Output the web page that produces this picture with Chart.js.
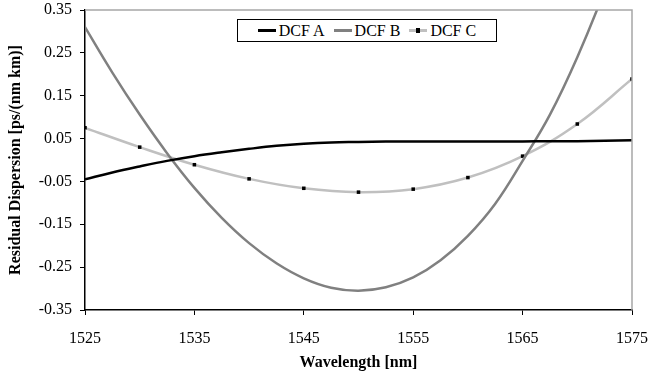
<!DOCTYPE html>
<html>
<head>
<meta charset="utf-8">
<script src="https://cdn.jsdelivr.net/npm/chart.js@4"></script>
<style>
    html, body { margin: 0; padding: 0; background: #fff; }
    #wrap { position: relative; width: 651px; height: 381px; }
    #legend {
        position: absolute; left: 237px; top: 19px; width: 260px; height: 23px;
        border: 1px solid #000; background: #fff; box-sizing: border-box;
        display: flex; align-items: center; justify-content: center; gap: 9px;
        font-family: "Liberation Serif", "Times New Roman", serif; font-size: 16px; color: #000;
    }
    .item { display: flex; align-items: center; gap: 3px; white-space: nowrap; }
    .swatch { position: relative; width: 18px; height: 3px; }
    .dot { position: absolute; left: 7px; top: -1px; width: 4px; height: 5px; background: #000; }
</style>
</head>
<body>
<div id="wrap">
    <canvas id="dispersionChart" width="651" height="381"></canvas>
    <div id="legend"></div>
</div>
<script>
// wavelength grid for the smooth curves (nm)
const wavelengthFine = [1525, 1527.5, 1530, 1532.5, 1535, 1537.5, 1540, 1542.5, 1545, 1547.5,
    1550, 1552.5, 1555, 1557.5, 1560, 1562.5, 1565, 1567.5, 1570, 1572.5, 1575];
const dcfA = [-0.045, -0.029, -0.015, -0.002, 0.009, 0.018, 0.026, 0.033, 0.038, 0.041,
    0.042, 0.043, 0.043, 0.043, 0.043, 0.043, 0.043, 0.044, 0.044, 0.045, 0.046];
const dcfB = [0.310, 0.204, 0.106, 0.016, -0.065, -0.135, -0.194, -0.241, -0.276, -0.298,
    -0.305, -0.297, -0.274, -0.234, -0.177, -0.102, -0.002, 0.106, 0.240, 0.396, 0.574];

// DCF C is sampled every 5 nm (marked points)
const wavelengthC = [1525, 1530, 1535, 1540, 1545, 1550, 1555, 1560, 1565, 1570, 1575];
const dcfC = [0.075, 0.030, -0.011, -0.044, -0.066, -0.075, -0.068, -0.041, 0.009, 0.084, 0.189];

const xTicks = [1525, 1535, 1545, 1555, 1565, 1575];
const yTicks = [-0.35, -0.25, -0.15, -0.05, 0.05, 0.15, 0.25, 0.35];

const seriesNames = ["DCF A", "DCF B", "DCF C"];
const seriesColors = ["#000000", "#808080", "#c0c0c0"];

const serif = "'Liberation Serif', 'Times New Roman', serif";

function toPoints(xs, ys) {
    return xs.map((x, i) => ({ x: x, y: ys[i] }));
}

// gray frame on the top and right of the plot area
const plotFrame = {
    id: "plotFrame",
    afterDraw(chart) {
        const { ctx, chartArea } = chart;
        ctx.save();
        ctx.strokeStyle = "#a6a6a6";
        ctx.lineWidth = 1.5;
        ctx.beginPath();
        ctx.moveTo(chartArea.left, chartArea.top);
        ctx.lineTo(chartArea.right, chartArea.top);
        ctx.lineTo(chartArea.right, chartArea.bottom);
        ctx.stroke();
        ctx.restore();
    }
};

new Chart(document.getElementById("dispersionChart"), {
    type: "line",
    data: {
        datasets: [
            {
                label: seriesNames[0],
                data: toPoints(wavelengthFine, dcfA),
                borderColor: seriesColors[0],
                borderWidth: 2.5,
                pointRadius: 0,
                tension: 0.4,
            },
            {
                label: seriesNames[1],
                data: toPoints(wavelengthFine, dcfB),
                borderColor: seriesColors[1],
                borderWidth: 2.5,
                pointRadius: 0,
                tension: 0.4,
            },
            {
                label: seriesNames[2],
                data: toPoints(wavelengthC, dcfC),
                borderColor: seriesColors[2],
                borderWidth: 2.5,
                pointStyle: "rect",
                pointRadius: 2.5,
                pointBackgroundColor: "#000",
                pointBorderWidth: 0,
                tension: 0.4,
            },
        ]
    },
    options: {
        responsive: false,
        animation: false,
        events: [],
        layout: { padding: { left: 0, top: 10, right: 19, bottom: 0 } },
        plugins: {
            legend: { display: false },
            tooltip: { enabled: false }
        },
        scales: {
            x: {
                type: "linear",
                min: 1525,
                max: 1575,
                afterBuildTicks: (scale) => { scale.ticks = xTicks.map(v => ({ value: v })); },
                afterFit: (scale) => {
                    scale.height = 71;
                    scale.paddingLeft = 0;
                    scale.paddingRight = 0;
                },
                border: { color: "#000", width: 1.5 },
                grid: { drawOnChartArea: false, tickColor: "#000", tickLength: 5 },
                ticks: {
                    color: "#000",
                    padding: 14,
                    maxRotation: 0,
                    font: { family: serif, size: 16 },
                    callback: (value) => String(value)
                },
                title: {
                    display: true,
                    text: "Wavelength [nm]",
                    color: "#000",
                    padding: { top: 0, bottom: 9 },
                    font: { family: serif, size: 16, weight: "bold" }
                }
            },
            y: {
                min: -0.35,
                max: 0.35,
                afterBuildTicks: (scale) => { scale.ticks = yTicks.map(v => ({ value: v })); },
                afterFit: (scale) => {
                    scale.width = 85;
                    scale.paddingTop = 0;
                    scale.paddingBottom = 0;
                },
                border: { color: "#000", width: 1.5 },
                grid: { drawOnChartArea: false, tickColor: "#000", tickLength: 5 },
                ticks: {
                    color: "#000",
                    padding: 8,
                    font: { family: serif, size: 16 },
                    callback: (value) => value.toFixed(2)
                },
                title: {
                    display: true,
                    text: "Residual Dispersion [ps/(nm km)]",
                    color: "#000",
                    padding: { top: 6, bottom: 0 },
                    font: { family: serif, size: 16, weight: "bold" }
                }
            }
        }
    },
    plugins: [plotFrame]
});

// legend overlay, built from the series names and colours
const legend = document.getElementById("legend");
seriesNames.forEach((name, i) => {
    const item = document.createElement("div");
    item.className = "item";
    const swatch = document.createElement("div");
    swatch.className = "swatch";
    swatch.style.background = seriesColors[i];
    if (i === 2) {
        const dot = document.createElement("div");
        dot.className = "dot";
        swatch.appendChild(dot);
    }
    const label = document.createElement("span");
    label.textContent = name;
    item.appendChild(swatch);
    item.appendChild(label);
    legend.appendChild(item);
});
</script>
</body>
</html>
